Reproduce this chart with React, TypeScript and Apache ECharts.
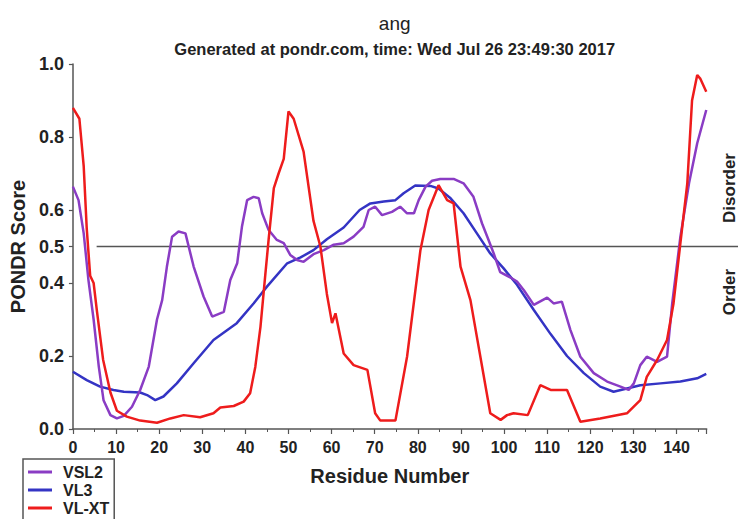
import React, { useEffect, useRef } from "react";
import * as echarts from "echarts";

const titleText = "ang";
const subtitleText = "Generated at pondr.com, time: Wed Jul 26 23:49:30 2017";
const yTickValues = [0, 0.2, 0.4, 0.5, 0.6, 0.8, 1.0];
const thresholdValue = 0.5;

const residuesVSL2 = [0, 1.3, 2.5, 3.6, 4.8, 6, 7.1, 8.7, 10.2, 11.8, 13.7, 15.6, 17.6, 19.5, 20.7, 21.8, 23, 24.5, 26.1, 28, 30.3, 32.3, 35, 36.5, 38.1, 39.2, 40.4, 41.9, 43.1, 43.9, 45.4, 47.3, 48.9, 50.4, 52, 53.5, 55.8, 58.2, 60.5, 62.8, 65.1, 67.4, 68.6, 70.1, 71.7, 74, 75.9, 77.5, 79.1, 80.2, 81.8, 83.3, 85.2, 88.3, 90.6, 92.9, 94.9, 96.4, 97.6, 99.1, 101.5, 103, 104.6, 106.9, 110, 111.5, 113.4, 115.4, 117.7, 120.8, 123.9, 127, 128.9, 130.1, 131.6, 133.1, 135.5, 137.8, 139, 140.9, 142.9, 144.8, 146.9];
const scoresVSL2 = [0.664, 0.627, 0.536, 0.408, 0.3, 0.171, 0.079, 0.038, 0.029, 0.036, 0.061, 0.107, 0.171, 0.3, 0.353, 0.445, 0.527, 0.541, 0.536, 0.445, 0.363, 0.308, 0.321, 0.408, 0.454, 0.554, 0.627, 0.636, 0.632, 0.591, 0.545, 0.518, 0.509, 0.477, 0.463, 0.458, 0.479, 0.49, 0.505, 0.509, 0.527, 0.554, 0.6, 0.609, 0.586, 0.595, 0.609, 0.591, 0.591, 0.627, 0.664, 0.68, 0.685, 0.685, 0.673, 0.636, 0.563, 0.518, 0.481, 0.43, 0.415, 0.404, 0.38, 0.34, 0.36, 0.344, 0.349, 0.271, 0.198, 0.153, 0.13, 0.116, 0.107, 0.125, 0.175, 0.198, 0.184, 0.198, 0.344, 0.527, 0.673, 0.783, 0.874];

const residuesVL3 = [0, 3.2, 6.3, 9.4, 11.8, 15.6, 17.2, 19.1, 21, 24.1, 28, 32.6, 38, 41.9, 45, 49.7, 52.8, 55.8, 58.9, 62.8, 66.5, 69, 72.1, 74.8, 76.7, 79.4, 82.9, 84.8, 87.6, 90.6, 93.7, 96.8, 99.9, 103, 106.9, 110.8, 114.6, 118.5, 122.3, 125.4, 128.5, 131.6, 136.3, 140.9, 144.8, 146.9];
const scoresVL3 = [0.157, 0.134, 0.116, 0.107, 0.102, 0.1, 0.093, 0.079, 0.089, 0.125, 0.18, 0.244, 0.29, 0.344, 0.39, 0.454, 0.47, 0.49, 0.52, 0.552, 0.6, 0.618, 0.623, 0.627, 0.646, 0.667, 0.666, 0.659, 0.632, 0.591, 0.536, 0.481, 0.44, 0.395, 0.326, 0.26, 0.2, 0.153, 0.116, 0.102, 0.111, 0.12, 0.125, 0.13, 0.139, 0.151];

const residuesVLXT = [0, 1.5, 2.5, 3.2, 4, 4.8, 5.6, 7, 8.7, 10.2, 12.5, 15.6, 19.5, 22.6, 25.7, 29.5, 32.6, 34.2, 37.3, 39.6, 41.1, 42.3, 43.5, 44.6, 45.4, 46.6, 47.7, 48.9, 50, 51.2, 53.5, 55.8, 57.4, 58.9, 60.1, 60.9, 62.8, 65.1, 68.3, 70.1, 71.3, 74.8, 77.5, 80.6, 82.5, 84.8, 86.8, 88.3, 89.9, 92.2, 94.9, 96.8, 99.2, 100.7, 102.2, 105.5, 108.4, 110.8, 114.6, 117.7, 122.3, 128.5, 131.6, 133.1, 135.5, 137.8, 139.3, 140.9, 142.5, 143.6, 144.8, 145.5, 146.9];
const scoresVLXT = [0.88, 0.85, 0.72, 0.55, 0.42, 0.4, 0.32, 0.19, 0.1, 0.05, 0.034, 0.023, 0.017, 0.029, 0.038, 0.032, 0.043, 0.059, 0.063, 0.075, 0.098, 0.17, 0.28, 0.42, 0.52, 0.66, 0.7, 0.74, 0.87, 0.85, 0.76, 0.57, 0.5, 0.37, 0.29, 0.317, 0.207, 0.175, 0.162, 0.043, 0.023, 0.023, 0.198, 0.49, 0.6, 0.668, 0.627, 0.618, 0.445, 0.353, 0.171, 0.043, 0.025, 0.038, 0.043, 0.038, 0.12, 0.107, 0.107, 0.02, 0.029, 0.043, 0.079, 0.143, 0.189, 0.244, 0.344, 0.509, 0.673, 0.9, 0.97, 0.96, 0.924];

const FONT = "'Liberation Sans', Arial, Helvetica, sans-serif";
const AXIS_COLOR = "#555";
const TEXT_COLOR = "#222";

function pairs(xs: number[], ys: number[]) {
  return xs.map((x, i) => [x, ys[i]]);
}

export default function App() {
  const ref = useRef<HTMLDivElement>(null);

  useEffect(() => {
    if (!ref.current) return;
    const chart = echarts.init(ref.current, null, { renderer: "svg" });
    const option: any = {
      animation: false,
      backgroundColor: "#ffffff",
      textStyle: { fontFamily: FONT },
      title: [
        {
          text: titleText,
          left: 389.7,
          textAlign: "center",
          top: 9,
          textStyle: { fontFamily: FONT, fontSize: 19, fontWeight: "normal", color: "#222" },
        },
        {
          text: subtitleText,
          left: 389.7,
          textAlign: "center",
          top: 35,
          textStyle: { fontFamily: FONT, fontSize: 16.5, fontWeight: "bold", color: "#222" },
        },
      ],
      legend: {
        orient: "vertical",
        left: 23,
        top: 459,
        height: 120,
        padding: [5, 5, 20, 5],
        itemGap: 2,
        itemWidth: 24,
        itemHeight: 3,
        icon: "rect",
        borderColor: "#555",
        borderWidth: 1.5,
        borderRadius: 0,
        data: ["VSL2", "VL3", "VL-XT"],
        textStyle: {
          fontFamily: FONT,
          fontSize: 16,
          fontWeight: "bold",
          color: TEXT_COLOR,
          padding: [0, 0, 0, 6],
        },
      },
      grid: { left: 72.7, right: 33.3, top: 64, bottom: 90, containLabel: false },
      xAxis: {
        type: "value",
        min: 0,
        max: 147,
        interval: 10,
        name: "Residue Number",
        nameLocation: "middle",
        nameGap: 37,
        nameTextStyle: { fontFamily: FONT, fontSize: 20, fontWeight: "bold", color: TEXT_COLOR },
        axisLine: { show: true, onZero: false, lineStyle: { color: AXIS_COLOR, width: 1.5 } },
        axisTick: { show: true, inside: false, length: 5, lineStyle: { color: AXIS_COLOR, width: 1.2 } },
        minorTick: { show: true, splitNumber: 2, length: 3, lineStyle: { color: AXIS_COLOR, width: 1 } },
        splitLine: { show: false },
        axisLabel: {
          showMaxLabel: false,
          margin: 10,
          fontFamily: FONT,
          fontSize: 16,
          fontWeight: "bold",
          color: TEXT_COLOR,
          formatter: (v: number) => (v % 10 === 0 ? String(v) : ""),
        },
      },
      yAxis: {
        type: "value",
        min: 0,
        max: 1,
        interval: 0.1,
        name: "PONDR Score",
        nameLocation: "middle",
        nameGap: 43,
        nameRotate: 90,
        nameTextStyle: { fontFamily: FONT, fontSize: 20, fontWeight: "bold", color: TEXT_COLOR },
        axisLine: { show: true, lineStyle: { color: AXIS_COLOR, width: 1.5 } },
        axisTick: { show: true, length: 4, customValues: yTickValues, lineStyle: { color: AXIS_COLOR, width: 1.2 } },
        splitLine: { show: false },
        axisLabel: {
          customValues: yTickValues,
          margin: 9,
          fontFamily: FONT,
          fontSize: 18,
          fontWeight: "bold",
          color: TEXT_COLOR,
          formatter: (v: number) => v.toFixed(1),
        },
      },
      series: [
        {
          name: "VL3",
          type: "line",
          showSymbol: false,
          data: pairs(residuesVL3, scoresVL3),
          itemStyle: { color: "#3434c4" },
          lineStyle: { color: "#3434c4", width: 2.5 },
          z: 2,
        },
        {
          name: "VSL2",
          type: "line",
          showSymbol: false,
          data: pairs(residuesVSL2, scoresVSL2),
          itemStyle: { color: "#8a3cc4" },
          lineStyle: { color: "#8a3cc4", width: 2.5 },
          z: 3,
        },
        {
          name: "VL-XT",
          type: "line",
          showSymbol: false,
          data: pairs(residuesVLXT, scoresVLXT),
          itemStyle: { color: "#ee1c1c" },
          lineStyle: { color: "#ee1c1c", width: 2.5 },
          z: 4,
        },
      ],
    };
    chart.setOption(option);

    const yHalf = chart.convertToPixel({ yAxisIndex: 0 }, thresholdValue) as number;
    const xStart = chart.convertToPixel({ xAxisIndex: 0 }, 5.5) as number;
    chart.setOption({
      graphic: [
        {
          type: "line",
          z: 1,
          shape: { x1: xStart, y1: yHalf, x2: 738, y2: yHalf },
          style: { stroke: "#555", lineWidth: 1.5 },
        },
        {
          type: "text",
          x: 729,
          y: 188,
          rotation: Math.PI / 2,
          style: {
            text: "Disorder",
            fontFamily: FONT,
            fontSize: 17,
            fontWeight: "bold",
            fill: TEXT_COLOR,
            align: "center",
            verticalAlign: "middle",
            backgroundColor: "#fff",
          },
        },
        {
          type: "text",
          x: 729,
          y: 292,
          rotation: Math.PI / 2,
          style: {
            text: "Order",
            fontFamily: FONT,
            fontSize: 17,
            fontWeight: "bold",
            fill: TEXT_COLOR,
            align: "center",
            verticalAlign: "middle",
            backgroundColor: "#fff",
          },
        },
      ],
    });

    return () => chart.dispose();
  }, []);

  return (
    <div
      ref={ref}
      style={{ position: "fixed", left: 0, top: 0, width: 740, height: 519, background: "#fff" }}
    />
  );
}
